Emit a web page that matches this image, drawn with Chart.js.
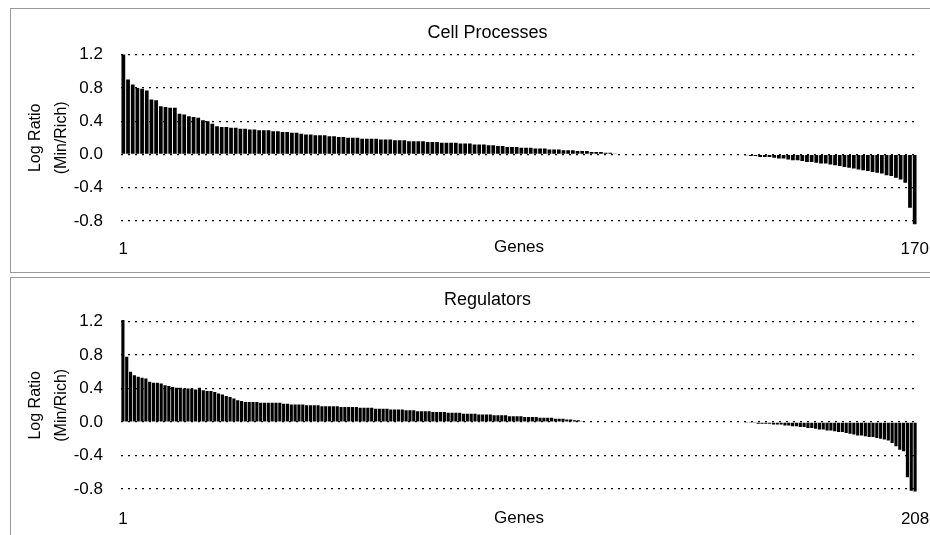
<!DOCTYPE html>
<html>
<head>
<meta charset="utf-8">
<script src="https://cdn.jsdelivr.net/npm/chart.js@4.4.1/dist/chart.umd.min.js"></script>
<style>
  html, body { margin: 0; padding: 0; background: #fff; overflow: hidden; }
  body { width: 930px; height: 535px; position: relative; }
  .rule { position: absolute; background: #999; }
  canvas { position: absolute; left: 0; }
  #chart-top { top: 0; }
  #chart-bottom { top: 275px; }
</style>
</head>
<body>
<!-- panel frames: top, left and bottom edges only -->
<div class="rule" style="left:10px; top:8px; width:920px; height:1px;"></div>
<div class="rule" style="left:10px; top:8px; width:1px; height:265px;"></div>
<div class="rule" style="left:10px; top:272px; width:920px; height:1px;"></div>
<div class="rule" style="left:10px; top:277px; width:920px; height:1px;"></div>
<div class="rule" style="left:10px; top:277px; width:1px; height:258px;"></div>
<canvas id="chart-top" width="930" height="272"></canvas>
<canvas id="chart-bottom" width="930" height="260"></canvas>
<script>
const Y_TICKS = [-0.8, -0.4, 0.0, 0.4, 0.8, 1.2];
const X_TITLE = "Genes";
const Y_TITLE = ["Log Ratio", "(Min/Rich)"];

const cellTitle = "Cell Processes";
const cellValues = [
  1.20, 0.90, 0.84, 0.80, 0.79, 0.77, 0.66, 0.65, 0.58, 0.57,
  0.56, 0.56, 0.49, 0.48, 0.46, 0.45, 0.44, 0.41, 0.40, 0.37,
  0.34, 0.33, 0.33, 0.32, 0.32, 0.31, 0.31, 0.30, 0.30, 0.29,
  0.29, 0.29, 0.28, 0.28, 0.27, 0.27, 0.26, 0.26, 0.25, 0.24,
  0.24, 0.23, 0.23, 0.23, 0.22, 0.22, 0.21, 0.21, 0.20, 0.20,
  0.20, 0.19, 0.19, 0.19, 0.19, 0.18, 0.18, 0.18, 0.17, 0.17,
  0.17, 0.16, 0.16, 0.16, 0.16, 0.15, 0.15, 0.15, 0.14, 0.14,
  0.14, 0.14, 0.13, 0.13, 0.13, 0.12, 0.12, 0.12, 0.11, 0.11,
  0.10, 0.10, 0.09, 0.09, 0.09, 0.08, 0.08, 0.08, 0.07, 0.07,
  0.07, 0.06, 0.06, 0.06, 0.05, 0.05, 0.05, 0.04, 0.04, 0.04,
  0.03, 0.03, 0.03, 0.02, 0.02, 0.01,
  0, 0, 0, 0, 0, 0, 0, 0, 0, 0,
  0, 0, 0, 0, 0, 0, 0, 0, 0, 0,
  0, 0, 0, 0, 0, 0, 0,
  -0.01, -0.02, -0.02, -0.03, -0.03, -0.03, -0.04, -0.05, -0.05, -0.06,
  -0.07, -0.07, -0.08, -0.09, -0.09, -0.10, -0.11, -0.11, -0.12, -0.13,
  -0.14, -0.15, -0.16, -0.17, -0.18, -0.19, -0.20, -0.21, -0.22, -0.23,
  -0.25, -0.26, -0.28, -0.30, -0.34, -0.64, -0.84
];
const cellTickLabels = ["1", "170"];

const regTitle = "Regulators";
const regValues = [
  1.22, 0.78, 0.60, 0.56, 0.54, 0.53, 0.52, 0.48, 0.47, 0.47,
  0.46, 0.44, 0.43, 0.42, 0.41, 0.41, 0.40, 0.40, 0.40, 0.39,
  0.41, 0.38, 0.37, 0.37, 0.36, 0.34, 0.33, 0.31, 0.30, 0.28,
  0.26, 0.25, 0.24, 0.24, 0.24, 0.24, 0.23, 0.23, 0.23, 0.23,
  0.23, 0.23, 0.22, 0.22, 0.21, 0.21, 0.21, 0.21, 0.20, 0.20,
  0.20, 0.20, 0.19, 0.19, 0.19, 0.19, 0.19, 0.18, 0.18, 0.18,
  0.18, 0.18, 0.17, 0.17, 0.17, 0.17, 0.16, 0.16, 0.16, 0.16,
  0.15, 0.15, 0.15, 0.15, 0.14, 0.14, 0.14, 0.13, 0.13, 0.13,
  0.13, 0.12, 0.12, 0.12, 0.12, 0.11, 0.11, 0.11, 0.11, 0.10,
  0.10, 0.10, 0.10, 0.09, 0.09, 0.09, 0.09, 0.08, 0.08, 0.08,
  0.08, 0.07, 0.07, 0.07, 0.07, 0.06, 0.06, 0.06, 0.06, 0.05,
  0.05, 0.05, 0.05, 0.04, 0.04, 0.04, 0.03, 0.03, 0.02, 0.02, 0.01,
  0, 0, 0, 0, 0, 0, 0, 0, 0, 0,
  0, 0, 0, 0, 0, 0, 0, 0, 0, 0,
  0, 0, 0, 0, 0, 0, 0, 0, 0, 0,
  0, 0, 0, 0, 0, 0, 0, 0, 0, 0,
  0, 0,
  -0.01, -0.01, -0.01, -0.02, -0.02, -0.02, -0.02, -0.03, -0.03, -0.03,
  -0.04, -0.04, -0.05, -0.05, -0.06, -0.06, -0.07, -0.07, -0.08, -0.09,
  -0.09, -0.10, -0.10, -0.11, -0.12, -0.12, -0.13, -0.14, -0.15, -0.16,
  -0.16, -0.17, -0.18, -0.18, -0.19, -0.20, -0.21, -0.22, -0.25, -0.29, -0.33,
  -0.35, -0.66, -0.82, -0.83
];
const regTickLabels = ["1", "208"];

Chart.defaults.font.family = '"Liberation Sans", Arial, sans-serif';
Chart.defaults.color = "#000";

// the frame edges sit slightly differently in each panel, so each gets its own spacing
function makePanel(canvasId, title, values, tickLabels, g) {
  const labels = values.map((_, i) => String(i + 1));
  const last = values.length - 1;

  return new Chart(document.getElementById(canvasId), {
    type: "bar",
    data: {
      labels: labels,
      datasets: [
        {
          data: values,
          backgroundColor: "#000",
          borderWidth: 0,
          categoryPercentage: 1,
          barPercentage: g.barPct,
          clip: 8,
        },
      ],
    },
    options: {
      responsive: false,
      animation: false,
      devicePixelRatio: 1,
      layout: { padding: { left: 58, right: 13, top: 0, bottom: 0 } },
      plugins: {
        legend: { display: false },
        tooltip: { enabled: false },
        title: {
          display: true,
          text: title,
          font: { size: 18, weight: "normal" },
          padding: { top: g.titleTop, bottom: g.titleBottom },
        },
      },
      scales: {
        x: {
          grid: { display: false, drawTicks: false },
          border: { display: false },
          ticks: {
            autoSkip: false,
            maxRotation: 0,
            minRotation: 0,
            padding: g.tickPad,
            font: { size: 17 },
            callback: function (v, i) {
              if (i === 0) return tickLabels[0];
              if (i === last) return tickLabels[1];
              return "";
            },
          },
          title: {
            display: true,
            text: X_TITLE,
            font: { size: 17 },
            padding: { top: 0, bottom: g.genesBottom },
          },
          afterFit: function (scale) {
            scale.height = g.xHeight;
            // "170" / "208" may hang past the plot edge, as in the original
            scale.paddingLeft = 0;
            scale.paddingRight = 0;
          },
        },
        y: {
          min: -0.8,
          max: 1.2,
          grid: { color: "#000", lineWidth: 1.2, drawTicks: false },
          border: { display: false, dash: [2, 5] },
          ticks: {
            padding: 18,
            font: { size: 17 },
            callback: (v) => Number(v).toFixed(1),
          },
          afterBuildTicks: function (scale) {
            scale.ticks = Y_TICKS.map((v) => ({ value: v }));
          },
          title: {
            display: true,
            text: Y_TITLE,
            font: { size: 16, lineHeight: 1.65 },
            padding: { top: -36, bottom: 0 },
          },
          afterFit: function (scale) {
            scale.width = 63;
          },
        },
      },
    },
  });
}

makePanel("chart-top", cellTitle, cellValues, cellTickLabels, {
  titleTop: 22, titleBottom: 11, xHeight: 51, tickPad: 18, genesBottom: 14, barPct: 0.8,
});
makePanel("chart-bottom", regTitle, regValues, regTickLabels, {
  titleTop: 14, titleBottom: 11, xHeight: 46, tickPad: 20, genesBottom: 6, barPct: 0.82,
});
</script>
</body>
</html>
